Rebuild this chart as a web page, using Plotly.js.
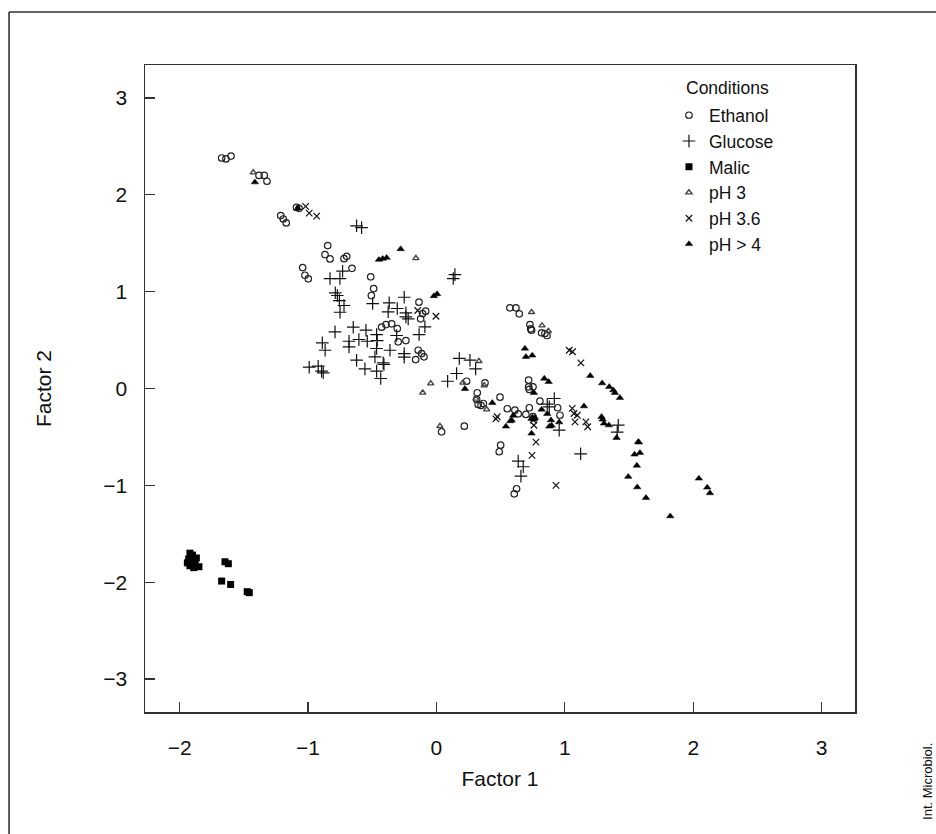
<!DOCTYPE html>
<html>
<head>
<meta charset="utf-8">
<script src="https://cdn.plot.ly/plotly-3.0.1.min.js"></script>
<style>html,body{margin:0;padding:0;background:#fff;}#chart{width:936px;height:834px;}</style>
</head>
<body>
<div id="chart"></div>
<script>
// Factor scores, per condition
const ethanolX = [-1.673,-1.64,-1.60,-1.382,-1.341,-1.320,-1.09,-1.07,-1.213,-1.193,-1.170,-0.847,-0.868,-0.829,-0.720,-0.699,-1.042,-1.024,-0.998,-0.658,-0.512,-0.489,-0.507,-0.136,-0.084,-0.108,-0.123,-0.427,-0.393,-0.349,-0.305,-0.298,-0.238,-0.142,-0.115,-0.097,-0.162,0.235,0.318,0.313,0.325,0.378,0.347,0.365,0.572,0.619,0.645,0.728,0.741,0.734,0.819,0.845,0.861,0.495,0.552,0.611,0.637,0.697,0.723,0.718,0.718,0.752,0.723,0.806,0.944,0.962,0.752,0.5,0.489,0.624,0.606,0.217,0.04];
const ethanolY = [2.38,2.37,2.40,2.20,2.20,2.14,1.87,1.86,1.785,1.75,1.71,1.476,1.383,1.338,1.34,1.365,1.249,1.169,1.132,1.241,1.153,1.032,0.96,0.891,0.798,0.774,0.719,0.633,0.66,0.668,0.619,0.482,0.495,0.395,0.361,0.327,0.299,0.075,-0.044,-0.113,-0.165,0.059,-0.175,-0.155,0.833,0.833,0.771,0.66,0.602,0.616,0.575,0.568,0.547,-0.09,-0.209,-0.224,-0.261,-0.268,-0.199,0.086,0.017,0.017,-0.01,-0.131,-0.199,-0.276,-0.29,-0.585,-0.653,-1.035,-1.087,-0.389,-0.447];

const glucoseX = [-0.622,-0.583,-0.731,-0.829,-0.752,0.144,0.131,-0.788,-0.772,-0.756,-0.72,-0.751,-0.497,-0.251,-0.368,-0.376,-0.305,-0.238,-0.22,-0.238,-0.09,-0.135,-0.790,-0.648,-0.549,-0.604,-0.539,-0.889,-0.867,-0.681,-0.681,-0.466,-0.461,-0.466,-0.310,-0.362,-0.251,-0.251,-0.622,-0.479,-0.415,-0.409,-0.557,-0.466,-0.434,-0.991,-0.921,-0.895,-0.882,0.178,0.261,0.305,0.157,0.087,0.918,0.863,0.879,0.956,1.123,1.416,1.408,0.637,0.676,0.658];
const glucoseY = [1.68,1.66,1.211,1.135,1.135,1.176,1.135,0.988,0.96,0.908,0.857,0.787,0.877,0.942,0.884,0.792,0.826,0.781,0.719,0.74,0.637,0.557,0.585,0.633,0.602,0.506,0.488,0.472,0.395,0.488,0.43,0.557,0.495,0.413,0.547,0.395,0.361,0.323,0.292,0.327,0.265,0.248,0.203,0.179,0.103,0.22,0.23,0.179,0.162,0.31,0.292,0.203,0.155,0.075,-0.103,-0.162,-0.189,-0.43,-0.674,-0.379,-0.451,-0.75,-0.808,-0.905];

const malicX = [-1.92,-1.90,-1.93,-1.90,-1.87,-1.94,-1.91,-1.88,-1.85,-1.89,-1.92,-1.647,-1.621,-1.673,-1.603,-1.474,-1.458];
const malicY = [-1.70,-1.72,-1.76,-1.77,-1.75,-1.80,-1.81,-1.80,-1.84,-1.85,-1.83,-1.789,-1.809,-1.988,-2.023,-2.098,-2.108];

const ph3X = [-1.427,-0.160,-0.045,-0.107,0.206,0.331,0.372,0.308,0.391,0.741,0.822,0.871,0.027];
const ph3Y = [2.23,1.345,0.052,-0.044,0.059,0.282,0.031,-0.106,-0.217,0.788,0.65,0.592,-0.389];

const ph36X = [-1.019,-0.991,-0.933,-0.146,-0.004,1.034,1.06,1.125,0.463,0.473,0.754,0.759,0.775,0.744,0.931,1.058,1.071,1.097,1.079,1.164,1.178];
const ph36Y = [1.88,1.81,1.78,0.805,0.746,0.395,0.379,0.265,-0.313,-0.292,-0.327,-0.379,-0.554,-0.691,-1.001,-0.206,-0.258,-0.276,-0.344,-0.344,-0.395];

const ph4X = [-1.414,-1.08,-0.448,-0.419,-0.388,-0.279,-0.02,0.005,0.222,0.435,0.598,0.575,0.586,0.541,0.689,0.697,0.746,1.198,1.291,1.346,1.377,1.39,1.429,0.759,0.84,0.874,0.819,0.863,0.892,0.956,0.897,0.879,0.749,0.759,0.767,0.741,0.741,1.149,1.286,1.294,1.305,1.343,1.403,1.572,1.577,1.543,1.585,1.561,1.494,1.564,1.632,1.821,2.044,2.109,2.13];
const ph4Y = [2.13,1.86,1.33,1.34,1.35,1.44,0.955,0.975,-0.003,-0.148,-0.279,-0.337,-0.327,-0.392,0.413,0.327,0.341,0.131,0.055,0.018,-0.018,-0.044,-0.096,-0.044,0.103,0.069,-0.217,-0.261,-0.327,-0.348,-0.382,-0.392,-0.299,-0.32,-0.302,-0.313,-0.464,-0.183,-0.292,-0.32,-0.361,-0.379,-0.509,-0.55,-0.557,-0.681,-0.664,-0.795,-0.911,-1.019,-1.128,-1.318,-0.929,-1.022,-1.08];

const seriesNames = ["Ethanol", "Glucose", "Malic", "pH 3", "pH 3.6", "pH > 4"];
const legendTitle = "Conditions";
const tickVals = [-3, -2, -1, 0, 1, 2, 3];

const FONT = "Liberation Sans, Arial, sans-serif";

const traces = [
  {x: ethanolX, y: ethanolY, name: seriesNames[0], type: "scatter", mode: "markers",
   marker: {symbol: "circle-open", size: 6.5, color: "#222", line: {width: 1.2, color: "#222"}}},
  {x: glucoseX, y: glucoseY, name: seriesNames[1], type: "scatter", mode: "markers",
   marker: {symbol: "cross-thin-open", size: 9, color: "#111", line: {width: 1.2, color: "#111"}}},
  {x: malicX, y: malicY, name: seriesNames[2], type: "scatter", mode: "markers",
   marker: {symbol: "square", size: 7, color: "#000", line: {width: 0}}},
  {x: ph3X, y: ph3Y, name: seriesNames[3], type: "scatter", mode: "markers",
   marker: {symbol: "triangle-up-open", size: 5.5, color: "#444", line: {width: 1.4, color: "#444"}}},
  {x: ph36X, y: ph36Y, name: seriesNames[4], type: "scatter", mode: "markers",
   marker: {symbol: "x-thin-open", size: 6.5, color: "#111", line: {width: 1.2, color: "#111"}}},
  {x: ph4X, y: ph4Y, name: seriesNames[5], type: "scatter", mode: "markers",
   marker: {symbol: "triangle-up", size: 6.5, color: "#000", line: {width: 0.5, color: "#000"}}}
];

const axisCommon = {
  showgrid: false, zeroline: false, showline: true, mirror: true,
  linecolor: "#333", linewidth: 1.5,
  ticks: "inside", ticklen: 10, tickwidth: 1.2, tickcolor: "#333",
  tickvals: tickVals, tickfont: {family: FONT, size: 21, color: "#111"}
};

const layout = {
  width: 936, height: 834,
  margin: {l: 145, r: 81, t: 65, b: 122},
  paper_bgcolor: "#fff", plot_bgcolor: "#fff",
  font: {family: FONT, color: "#111"},
  showlegend: true,
  legend: {
    x: 0.738, y: 0.95, xanchor: "left", yanchor: "top",
    bgcolor: "rgba(0,0,0,0)", borderwidth: 0,
    font: {family: FONT, size: 17.5, color: "#111"},
    itemwidth: 30
  },
  xaxis: Object.assign({}, axisCommon, {
    range: [-2.27, 3.26], ticklabelstandoff: 16,
    title: {text: "Factor 1", font: {family: FONT, size: 21, color: "#111"}, standoff: 13}
  }),
  yaxis: Object.assign({}, axisCommon, {
    range: [-3.34, 3.34], ticklabelstandoff: 12,
    title: {text: "Factor 2", font: {family: FONT, size: 21, color: "#111"}, standoff: 46}
  }),
  shapes: [
    {type: "line", xref: "paper", yref: "paper", x0: -0.1915, x1: 1.12, y0: 1.082, y1: 1.082, line: {color: "#333", width: 1.6}},
    {type: "line", xref: "paper", yref: "paper", x0: -0.1915, x1: -0.1915, y0: 1.082, y1: -0.2, line: {color: "#333", width: 1.6}}
  ],
  annotations: [
    {text: legendTitle, xref: "paper", yref: "paper", x: (684 - 145) / 710, y: (712 - 88) / 647,
     xanchor: "left", yanchor: "middle", showarrow: false,
     font: {family: FONT, size: 17.5, color: "#111"}},
    {text: "Int. Microbiol.", xref: "paper", yref: "paper", x: 1.1028, y: -0.1066, textangle: -90,
     showarrow: false, font: {family: FONT, size: 13, color: "#111"}, xanchor: "center", yanchor: "middle"}
  ]
};

Plotly.newPlot("chart", traces, layout, {displayModeBar: false, staticPlot: true});
</script>
</body>
</html>
